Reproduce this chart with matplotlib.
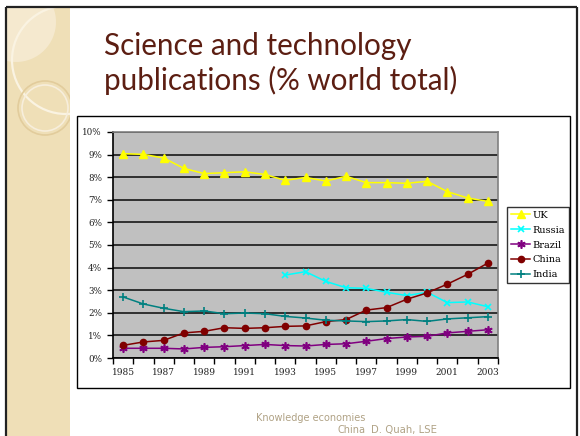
import numpy as np
import matplotlib
matplotlib.use("Agg")
import matplotlib.pyplot as plt
from matplotlib.patches import Rectangle, Circle

# ---------------- data ----------------
years = [1985, 1986, 1987, 1988, 1989, 1990, 1991, 1992, 1993, 1994,
         1995, 1996, 1997, 1998, 1999, 2000, 2001, 2002, 2003]
year_labels = ["1985", "1987", "1989", "1991", "1993", "1995", "1997", "1999", "2001", "2003"]
uk = [9.04, 9.01, 8.85, 8.39, 8.16, 8.20, 8.24, 8.12, 7.86, 7.99,
      7.83, 8.04, 7.76, 7.76, 7.73, 7.82, 7.36, 7.08, 6.93]
russia = [np.nan, np.nan, np.nan, np.nan, np.nan, np.nan, np.nan, np.nan, 3.67, 3.82,
          3.39, 3.11, 3.08, 2.91, 2.76, 2.91, 2.45, 2.48, 2.27]
brazil = [0.43, 0.43, 0.43, 0.40, 0.47, 0.50, 0.55, 0.60, 0.55, 0.53,
          0.60, 0.63, 0.74, 0.86, 0.93, 0.96, 1.11, 1.18, 1.25]
china = [0.56, 0.71, 0.78, 1.11, 1.18, 1.34, 1.31, 1.34, 1.40, 1.42,
         1.61, 1.70, 2.12, 2.23, 2.60, 2.88, 3.27, 3.70, 4.20]
india = [2.70, 2.39, 2.20, 2.05, 2.08, 1.96, 1.99, 1.96, 1.84, 1.77,
         1.67, 1.64, 1.61, 1.64, 1.70, 1.62, 1.73, 1.78, 1.83]
series_names = ["UK", "Russia", "Brazil", "China", "India"]
y_ticks = [0, 1, 2, 3, 4, 5, 6, 7, 8, 9, 10]

W, H = 580, 436
fig = plt.figure(figsize=(W / 100, H / 100), dpi=100)
fig.patch.set_facecolor("white")

def fx(x):
    return x / W

def fy(y):
    return 1 - y / H

# ---------------- background slide ----------------
bg = fig.add_axes([0, 0, 1, 1], zorder=0)
bg.set_xlim(0, W)
bg.set_ylim(H, 0)
bg.axis("off")

strip = Rectangle((7, 7), 63, H, facecolor="#EFDFB7", edgecolor="none")
bg.add_patch(strip)
deco = [
    Circle((16, 22), 40, facecolor="#F5E9CF", edgecolor="none"),
    Circle((66, 60), 54, facecolor="none", edgecolor="#FAF3E2", lw=1.6),
    Circle((45, 108), 27, facecolor="none", edgecolor="#E2CC9C", lw=1.2),
    Circle((45, 108), 23, facecolor="none", edgecolor="#F7EEDC", lw=1.2),
]
for c in deco:
    bg.add_patch(c)
    c.set_clip_path(strip)

# slide border
bg.plot([6, 6], [7, H], color="#222222", lw=1.6, solid_capstyle="butt")
bg.plot([6, 577], [7, 7], color="#222222", lw=1.6, solid_capstyle="butt")
bg.plot([577, 577], [7, H], color="#222222", lw=1.6, solid_capstyle="butt")

# chart box
bg.add_patch(Rectangle((77, 116), 493, 272, facecolor="white",
                       edgecolor="black", lw=1.0))

# title
title_color = "#5C1E12"
bg.text(104, 55, "Science and technology", fontsize=21.3, family="Lato",
        color=title_color, va="baseline", ha="left")
bg.text(104, 90, "publications (% world total)", fontsize=21.3, family="Lato",
        color=title_color, va="baseline", ha="left")

# footer
foot_color = "#B0A285"
bg.text(256, 421, "Knowledge economies", fontsize=7, family="DejaVu Sans",
        color=foot_color, va="baseline", ha="left")
bg.text(337, 433, "China", fontsize=7, family="DejaVu Sans",
        color=foot_color, va="baseline", ha="left")
bg.text(371, 433, "D. Quah, LSE", fontsize=7.3, family="DejaVu Sans",
        color=foot_color, va="baseline", ha="left")

# ---------------- chart ----------------
ax = fig.add_axes([fx(113), fy(358), fx(498 - 113), (358 - 132) / H], zorder=2)
ax.set_facecolor("#C0C0C0")
x = np.arange(len(years))

styles = [
    dict(color="#FFFF00", marker="^", ms=5.2),
    dict(color="#00FFFF", marker="x", ms=5, mew=1.2),
    dict(color="#800080", marker=(6, 2, 0), ms=6, mew=1.2),
    dict(color="#800000", marker="o", ms=4.5),
    dict(color="#008080", marker="+", ms=6, mew=1.2),
]
for name, vals, st in zip(series_names, [uk, russia, brazil, china, india], styles):
    ax.plot(x, vals, lw=1.1, label=name, zorder=3, **st)

ax.set_xlim(-0.5, len(years) - 0.5)
ax.set_ylim(0, 10)
ax.set_yticks(y_ticks)
ax.set_yticklabels([f"{v}%" for v in y_ticks], family="DejaVu Serif",
                   fontsize=6.3, color="#222222")
ax.grid(axis="y", color="#303030", lw=1.4)
ax.set_axisbelow(True)

ax.set_xticks(np.arange(-0.5, len(years), 1.0))
ax.set_xticklabels([])
label_pos = [years.index(int(l)) for l in year_labels]
ax.set_xticks(label_pos, minor=True)
ax.set_xticklabels(year_labels, minor=True, family="DejaVu Serif",
                   fontsize=6.5, color="#222222")
ax.tick_params(axis="x", which="major", length=4, width=1, color="black",
               direction="out")
ax.tick_params(axis="x", which="minor", length=0, pad=7)
ax.tick_params(axis="y", length=4, width=1, color="black", direction="out", pad=4)

for s in ["left", "bottom"]:
    ax.spines[s].set_color("black")
    ax.spines[s].set_linewidth(1.2)
for s in ["top", "right"]:
    ax.spines[s].set_color("#808080")
    ax.spines[s].set_linewidth(1.2)

leg = fig.legend(loc="upper left", bbox_to_anchor=(fx(507), fy(207)),
                 borderaxespad=0, fancybox=False, frameon=True,
                 prop={"family": "DejaVu Serif", "size": 7},
                 handlelength=2.0, handletextpad=0.25, labelspacing=0.6,
                 borderpad=0.4)
leg.get_frame().set_edgecolor("black")
leg.get_frame().set_linewidth(1.0)
leg.set_zorder(5)

fig.savefig("out.png", dpi=100)
